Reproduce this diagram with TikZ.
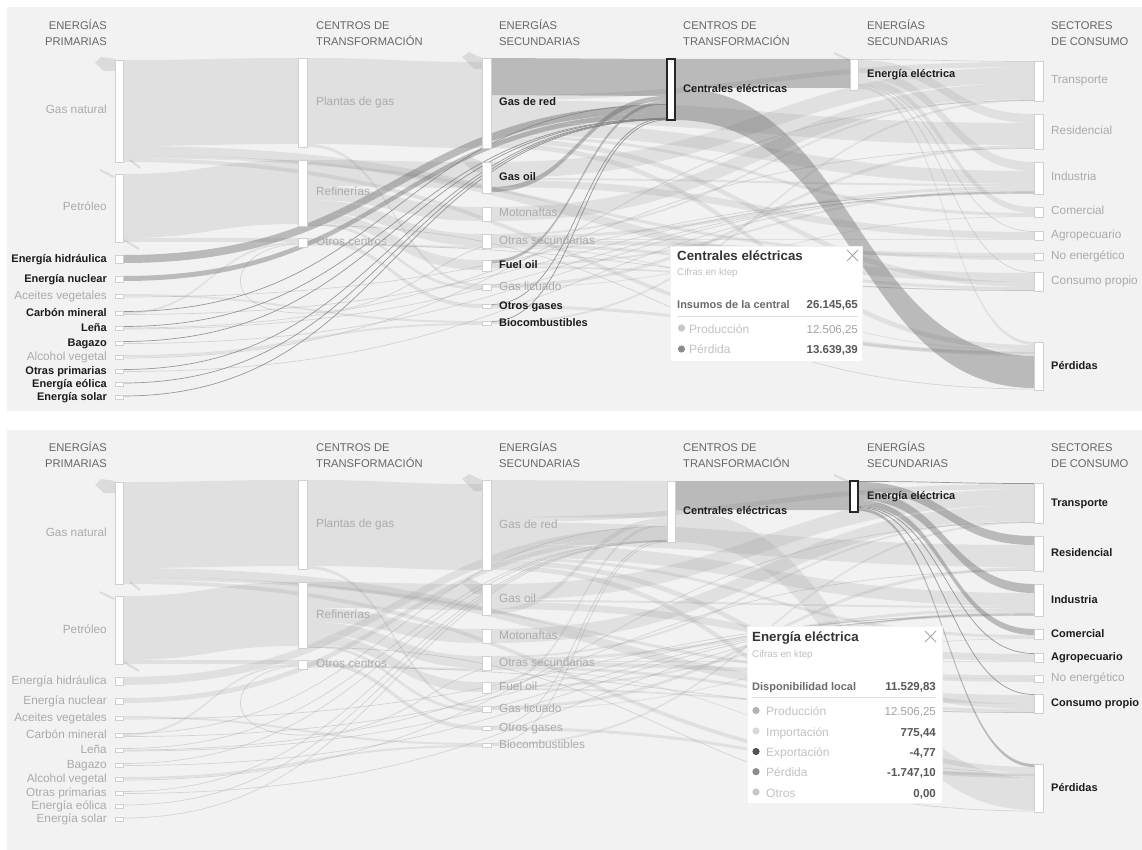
\documentclass[tikz,border=0pt]{standalone}
\usepackage{fontspec}
\setmainfont{Liberation Sans}
\usetikzlibrary{calc,positioning}

\definecolor{panelbg}{HTML}{F2F2F2}
\definecolor{lblgray}{HTML}{ABABAB}
\definecolor{lbldark}{HTML}{1C1C1C}
\definecolor{hdrgray}{HTML}{676767}
\definecolor{bargray}{HTML}{D0D0D0}

% a bar of the flow chart: name, left x, top y, width, height (y grows downwards)
\newcommand\mkbar[5]{\node[barbox,minimum width=#4pt,minimum height=#5pt] (#1) at (#2,#3) {};}

% ribbon between two bars: style, source, top/bottom offsets, target, top/bottom offsets
\newcommand\rib[7]{%
  \fill[#1] let \p1=($(#2.north east)+(0,#3)$), \p2=($(#2.north east)+(0,#4)$),
      \p3=($(#5.north west)+(0,#6)$), \p4=($(#5.north west)+(0,#7)$),
      \p5=($(\p1)!.5!(\p3)$) in
    (\p1) .. controls (\x5,\y1) and (\x5,\y3) .. (\p3) -- (\p4)
    .. controls (\x5,\y4) and (\x5,\y2) .. (\p2) -- cycle;}

% hairline link between two bars: style, source, offset, target, offset
\newcommand\lnk[5]{%
  \draw[#1] let \p1=($(#2.north east)+(0,#3)$), \p3=($(#4.north west)+(0,#5)$),
      \p5=($(\p1)!.5!(\p3)$) in
    (\p1) .. controls (\x5,\y1) and (\x5,\y3) .. (\p3);}

\newcommand\mkbars[1]{%
  % primary energy
  \mkbar{#1gn}{115}{60}{8}{102}
  \mkbar{#1pe}{115}{174}{8}{68}
  \mkbar{#1hi}{115}{255}{8}{8}
  \mkbar{#1nu}{115}{276}{8}{6}
  \mkbar{#1ac}{115}{294}{8}{4}
  \mkbar{#1ca}{115}{311}{8}{4}
  \mkbar{#1le}{115}{326}{8}{4}
  \mkbar{#1ba}{115}{341}{8}{4}
  \mkbar{#1al}{115}{355}{8}{4}
  \mkbar{#1op}{115}{369}{8}{4}
  \mkbar{#1eo}{115}{382}{8}{4}
  \mkbar{#1so}{115}{395}{8}{4}
  % transformation centres
  \mkbar{#1pg}{298}{58}{9}{89}
  \mkbar{#1re}{298}{160}{9}{66}
  \mkbar{#1oc}{298}{238}{9}{9}
  % secondary energy
  \mkbar{#1gr}{482}{58}{9}{90}
  \mkbar{#1go}{482}{162}{9}{31}
  \mkbar{#1mo}{482}{207}{9}{14}
  \mkbar{#1os}{482}{234}{9}{14}
  \mkbar{#1fo}{482}{260}{9}{11}
  \mkbar{#1gl}{482}{284}{9}{6}
  \mkbar{#1og}{482}{304}{9}{4}
  \mkbar{#1bi}{482}{321}{9}{4}
  % power plants and electricity
  \mkbar{#1ce}{667}{59}{8}{61}
  \mkbar{#1ee}{850}{59}{8}{31}
  % final consumption
  \mkbar{#1tr}{1034}{61}{9}{40}
  \mkbar{#1rs}{1034}{114}{9}{35}
  \mkbar{#1in}{1034}{162}{9}{32}
  \mkbar{#1co}{1034}{207}{9}{10}
  \mkbar{#1ag}{1034}{231}{9}{9}
  \mkbar{#1ne}{1034}{253}{9}{7}
  \mkbar{#1cp}{1034}{272}{9}{19}
  \mkbar{#1pd}{1034}{342}{9}{48}}

% import / export stubs
\newcommand\stubs{%
  \fill[stub] (95,63) -- (101,57) -- (115,59) -- (115,71) -- (104,71) -- cycle;
  \fill[stub] (462,57) -- (469,52) -- (482,58) -- (482,69) -- (474,69) -- cycle;
  \fill[stub] (462,161) -- (469,156) -- (482,162) -- (482,172) -- (474,172) -- cycle;
  \draw[stubline] (100,170) -- (114,177);
  \draw[stubline] (124,240) -- (139,249);
  \draw[stubline] (130,160) -- (140,168);
  \draw[stubline] (834,53) -- (849,60);}

\newcommand\flows[1]{%
  % primary -> transformation centres
  \rib{flt}{#1gn}{0}{86}{#1pg}{0}{86}
  \rib{flt}{#1pe}{0}{64}{#1re}{0}{64}
  \rib{flt}{#1pe}{64}{68}{#1oc}{0}{4}
  \rib{flt}{#1ca}{1}{3}{#1oc}{4}{6}
  \rib{flt}{#1ac}{0}{2}{#1bi}{0}{2}
  \rib{flt}{#1al}{0}{2}{#1bi}{2}{4}
  % primary -> final consumption
  \rib{flt}{#1gn}{86}{95}{#1cp}{1}{10}
  \rib{flt}{#1gn}{95}{98}{#1ne}{4}{7}
  \rib{flt}{#1gn}{98}{102}{#1pd}{10}{14}
  \lnk{tlt}{#1le}{2}{#1rs}{34.5}
  \lnk{tlt}{#1le}{3}{#1in}{31.5}
  \lnk{tlt}{#1ba}{2.5}{#1in}{30.5}
  \lnk{tlt}{#1op}{2.5}{#1in}{29.5}
  \lnk{tlt}{#1ac}{3}{#1in}{31}
  \lnk{tlt}{#1al}{3}{#1tr}{39.5}
  \lnk{tlt}{#1ca}{3.5}{#1in}{30}
  % transformation centres -> secondary energy
  \rib{flt}{#1pg}{0}{86}{#1gr}{4}{90}
  \rib{flt}{#1pg}{86}{89}{#1gl}{0}{3}
  \rib{flt}{#1re}{0}{26}{#1go}{0}{26}
  \rib{flt}{#1re}{26}{40}{#1mo}{0}{14}
  \rib{flt}{#1re}{40}{52}{#1os}{0}{12}
  \rib{flt}{#1re}{52}{62}{#1fo}{0}{10}
  \rib{flt}{#1re}{62}{65}{#1gl}{3}{6}
  \rib{flt}{#1oc}{0}{4}{#1og}{0}{4}
  \rib{flt}{#1oc}{4}{6}{#1os}{12}{14}
  \lnk{tlt}{#1oc}{7}{#1cp}{18.5}
  \lnk{tlt}{#1re}{65.5}{#1pd}{47}
  \draw[tlt] ($(#1oc.north west)+(0,6)$) .. controls (228,246) and (214,312)
    .. (300,313) .. controls (392,314) and (432,262) .. ($(#1os.north west)+(0,13)$);
  % secondary energy -> final consumption
  \rib{flt}{#1gr}{37}{42}{#1tr}{1}{6}
  \rib{flt}{#1gr}{42}{64}{#1rs}{9}{31}
  \rib{flt}{#1gr}{64}{77}{#1in}{9}{22}
  \rib{flt}{#1gr}{77}{80}{#1co}{6}{9}
  \rib{flt}{#1gr}{80}{85}{#1cp}{10}{15}
  \rib{flt}{#1gr}{85}{90}{#1pd}{3}{8}
  \rib{flt}{#1go}{0}{16}{#1tr}{6}{22}
  \rib{flt}{#1go}{16}{18}{#1in}{22}{24}
  \rib{flt}{#1go}{18}{25}{#1ag}{1}{8}
  \rib{flt}{#1mo}{0}{14}{#1tr}{22}{36}
  \rib{flt}{#1os}{0}{2}{#1tr}{36}{38}
  \rib{flt}{#1os}{2}{5}{#1in}{24}{27}
  \rib{flt}{#1os}{5}{6}{#1ag}{8}{9}
  \rib{flt}{#1os}{6}{10}{#1ne}{0}{4}
  \rib{flt}{#1os}{10}{13}{#1cp}{15}{18}
  \rib{flt}{#1os}{13}{14}{#1pd}{8}{9}
  \rib{flt}{#1fo}{4}{6}{#1in}{27}{29}
  \rib{flt}{#1fo}{6}{8}{#1cp}{18}{19}
  \rib{flt}{#1gl}{0}{3}{#1rs}{31}{34}
  \rib{flt}{#1gl}{3}{4}{#1co}{9}{10}
  \rib{flt}{#1og}{1}{4}{#1pd}{9}{12}
  \rib{flt}{#1bi}{1}{3}{#1tr}{38}{40}
  % electricity distribution
  \lnk{tee}{#1ee}{0.5}{#1tr}{0.5}
  \rib{fee}{#1ee}{1}{10}{#1rs}{0}{9}
  \rib{fee}{#1ee}{10}{19}{#1in}{0}{9}
  \rib{fee}{#1ee}{19}{25}{#1co}{0}{6}
  \lnk{tee}{#1ee}{25.5}{#1ag}{0.5}
  \lnk{tee}{#1ee}{26.5}{#1cp}{0.5}
  \rib{fee}{#1ee}{27}{30}{#1pd}{0}{3}
  % inputs of the power plants
  \rib{fce}{#1gr}{0}{37}{#1ce}{0}{37}
  \rib{fce}{#1go}{25}{30}{#1ce}{37}{42}
  \rib{fce}{#1fo}{0}{3}{#1ce}{42}{45}
  \rib{fce}{#1hi}{0}{8}{#1ce}{46}{54}
  \rib{fce}{#1nu}{0}{5}{#1ce}{54}{59}
  \lnk{tce}{#1ca}{0.5}{#1ce}{45.5}
  \lnk{tce}{#1og}{0.5}{#1ce}{59}
  \lnk{tce}{#1le}{0.5}{#1ce}{59.3}
  \lnk{tce}{#1ba}{0.5}{#1ce}{59.7}
  \lnk{tce}{#1op}{0.5}{#1ce}{60.1}
  \lnk{tce}{#1eo}{1}{#1ce}{60.4}
  \lnk{tce}{#1so}{1}{#1ce}{60.7}
  \lnk{tce}{#1bi}{0.5}{#1ce}{60.9}
  % outputs of the power plants
  \rib{fboth}{#1ce}{0}{29}{#1ee}{0}{29}
  \rib{fce}{#1ce}{29}{61}{#1pd}{14}{46}}

\newcommand\drawbars[1]{%
  \foreach \bb in {gn,pe,hi,nu,ac,ca,le,ba,al,op,eo,so,pg,re,oc,gr,go,mo,os,fo,gl,og,bi,tr,rs,in,co,ag,ne,cp,pd}
    {\draw[barline] (#1\bb.north west) rectangle (#1\bb.south east);}
  \draw[cebar] (#1ce.north west) rectangle (#1ce.south east);
  \draw[eebar] (#1ee.north west) rectangle (#1ee.south east);}

\newcommand\headers[1]{%
  \node[hdr,anchor=base east] (#1h1a) at (107,29.5) {ENERGÍAS};
  \node[hdr,anchor=base east] (#1h1b) at (107,45.5) {PRIMARIAS};
  \node[hdr,anchor=base west] (#1h2a) at (316,29.5) {CENTROS DE};
  \node[hdr,anchor=base west] (#1h2b) at (316,45.5) {TRANSFORMACIÓN};
  \node[hdr,anchor=base west] (#1h3a) at (499,29.5) {ENERGÍAS};
  \node[hdr,anchor=base west] (#1h3b) at (499,45.5) {SECUNDARIAS};
  \node[hdr,anchor=base west] (#1h4a) at (683,29.5) {CENTROS DE};
  \node[hdr,anchor=base west] (#1h4b) at (683,45.5) {TRANSFORMACIÓN};
  \node[hdr,anchor=base west] (#1h5a) at (867,29.5) {ENERGÍAS};
  \node[hdr,anchor=base west] (#1h5b) at (867,45.5) {SECUNDARIAS};
  \node[hdr,anchor=base west] (#1h6a) at (1051,29.5) {SECTORES};
  \node[hdr,anchor=base west] (#1h6b) at (1051,45.5) {DE CONSUMO};}

\begin{document}
\begin{tikzpicture}[x=1pt,y=-1pt,
  barbox/.style={rectangle,inner sep=0pt,outer sep=0pt,anchor=north west},
  barline/.style={draw=bargray,fill=white,line width=0.6pt},
  hibar/.style={draw=black!85,fill=white,line width=1.1pt},
  flt/.style={fill=black!45,fill opacity=0.17},
  fhl/.style={fill=black!62,fill opacity=0.38},
  tlt/.style={draw=black!45,draw opacity=0.3,line width=0.7pt},
  thl/.style={draw=black!52,draw opacity=0.75,line width=0.7pt},
  fboth/.style={fhl},
  stub/.style={fill=black!14},
  stubline/.style={draw=black!14,line width=2pt},
  hdr/.style={inner sep=0pt,text=hdrgray,font=\fontsize{11.2}{13}\selectfont},
  lg/.style={inner sep=0pt,text=lblgray,text height=8.5pt,text depth=2.5pt,font=\fontsize{11.8}{14}\selectfont},
  lb/.style={inner sep=0pt,text=lbldark,text height=8.5pt,text depth=2.5pt,font=\fontsize{11}{13}\selectfont\bfseries},
  tipbox/.style={rectangle,fill=white,draw=black!5,line width=0.4pt,inner sep=0pt,anchor=north west},
  tiptitle/.style={inner sep=0pt,text=black!80,font=\fontsize{13.3}{15}\selectfont\bfseries},
  tipnote/.style={inner sep=0pt,text=black!25,font=\fontsize{9.8}{11}\selectfont},
  tiphead/.style={inner sep=0pt,text=black!58,font=\fontsize{11}{13}\selectfont\bfseries},
  tipval/.style={inner sep=0pt,text=black!66,font=\fontsize{11.5}{13}\selectfont\bfseries},
  tiprow/.style={inner sep=0pt,text=black!24,font=\fontsize{12}{14}\selectfont},
  tipnum/.style={inner sep=0pt,text=black!36,font=\fontsize{11.5}{13}\selectfont},
  tiprule/.style={draw=black!12,line width=0.8pt},
  closex/.style={draw=black!35,line width=0.8pt}]

\useasboundingbox (0,0) rectangle (1142,850);
\fill[white] (0,0) rectangle (1142,850);

% ---------- upper chart: power plants selected ----------
\begin{scope}[fce/.style={fhl},fee/.style={flt},tce/.style={thl},tee/.style={tlt},
  cebar/.style={hibar},eebar/.style={barline}]
  \fill[panelbg] (7,7) rectangle (1142,411);
  \mkbars{t}
  \stubs
  \flows{t}
  \drawbars{t}
  \headers{t}
  \node[lg,left=8pt of tgn] (tgnL) {Gas natural};
  \node[lg,left=8pt of tpe] (tpeL) {Petróleo};
  \node[lb,left=8pt of thi] (thiL) {Energía hidráulica};
  \node[lb,left=8pt of tnu] (tnuL) {Energía nuclear};
  \node[lg,left=8pt of tac] (tacL) {Aceites vegetales};
  \node[lb,left=8pt of tca] (tcaL) {Carbón mineral};
  \node[lb,left=8pt of tle] (tleL) {Leña};
  \node[lb,left=8pt of tba] (tbaL) {Bagazo};
  \node[lg,left=8pt of tal] (talL) {Alcohol vegetal};
  \node[lb,left=8pt of top] (topL) {Otras primarias};
  \node[lb,left=8pt of teo] (teoL) {Energía eólica};
  \node[lb,left=8pt of tso] (tsoL) {Energía solar};
  \node[lg,right=9pt of tpg] (tpgL) {Plantas de gas};
  \node[lg,right=9pt of tre] (treL) {Refinerías};
  \node[lg,right=9pt of toc] (tocL) {Otros centros};
  \node[lb,right=8pt of tgr] (tgrL) {Gas de red};
  \node[lb,right=8pt of tgo] (tgoL) {Gas oil};
  \node[lg,right=8pt of tmo] (tmoL) {Motonaftas};
  \node[lg,right=8pt of tos] (tosL) {Otras secundarias};
  \node[lb,right=8pt of tfo] (tfoL) {Fuel oil};
  \node[lg,right=8pt of tgl] (tglL) {Gas licuado};
  \node[lb,right=8pt of tog] (togL) {Otros gases};
  \node[lb,right=8pt of tbi] (tbiL) {Biocombustibles};
  \node[lb,right=8pt of tce] (tceL) {Centrales eléctricas};
  \node[lb,right=9pt of tee] (teeL) {Energía eléctrica};
  \node[lg,right=8pt of ttr] (ttrL) {Transporte};
  \node[lg,right=8pt of trs] (trsL) {Residencial};
  \node[lg,right=8pt of tin] (tinL) {Industria};
  \node[lg,right=8pt of tco] (tcoL) {Comercial};
  \node[lg,right=8pt of tag] (tagL) {Agropecuario};
  \node[lg,right=8pt of tne] (tneL) {No energético};
  \node[lg,right=8pt of tcp] (tcpL) {Consumo propio};
  \node[lb,right=8pt of tpd] (tpdL) {Pérdidas};
\end{scope}

% ---------- lower chart: electricity selected ----------
\begin{scope}[shift={(0,422)},fce/.style={flt},fee/.style={fhl},tce/.style={tlt},tee/.style={thl},
  cebar/.style={barline},eebar/.style={hibar}]
  \fill[panelbg] (7,8) rectangle (1142,428);
  \mkbars{b}
  \stubs
  \flows{b}
  \drawbars{b}
  \headers{b}
  \node[lg,left=8pt of bgn] (bgnL) {Gas natural};
  \node[lg,left=8pt of bpe] (bpeL) {Petróleo};
  \node[lg,left=8pt of bhi] (bhiL) {Energía hidráulica};
  \node[lg,left=8pt of bnu] (bnuL) {Energía nuclear};
  \node[lg,left=8pt of bac] (bacL) {Aceites vegetales};
  \node[lg,left=8pt of bca] (bcaL) {Carbón mineral};
  \node[lg,left=8pt of ble] (bleL) {Leña};
  \node[lg,left=8pt of bba] (bbaL) {Bagazo};
  \node[lg,left=8pt of bal] (balL) {Alcohol vegetal};
  \node[lg,left=8pt of bop] (bopL) {Otras primarias};
  \node[lg,left=8pt of beo] (beoL) {Energía eólica};
  \node[lg,left=8pt of bso] (bsoL) {Energía solar};
  \node[lg,right=9pt of bpg] (bpgL) {Plantas de gas};
  \node[lg,right=9pt of bre] (breL) {Refinerías};
  \node[lg,right=9pt of boc] (bocL) {Otros centros};
  \node[lg,right=8pt of bgr] (bgrL) {Gas de red};
  \node[lg,right=8pt of bgo] (bgoL) {Gas oil};
  \node[lg,right=8pt of bmo] (bmoL) {Motonaftas};
  \node[lg,right=8pt of bos] (bosL) {Otras secundarias};
  \node[lg,right=8pt of bfo] (bfoL) {Fuel oil};
  \node[lg,right=8pt of bgl] (bglL) {Gas licuado};
  \node[lg,right=8pt of bog] (bogL) {Otros gases};
  \node[lg,right=8pt of bbi] (bbiL) {Biocombustibles};
  \node[lb,right=8pt of bce] (bceL) {Centrales eléctricas};
  \node[lb,right=9pt of bee] (beeL) {Energía eléctrica};
  \node[lb,right=8pt of btr] (btrL) {Transporte};
  \node[lb,right=8pt of brs] (brsL) {Residencial};
  \node[lb,right=8pt of bin] (binL) {Industria};
  \node[lb,right=8pt of bco] (bcoL) {Comercial};
  \node[lb,right=8pt of bag] (bagL) {Agropecuario};
  \node[lg,right=8pt of bne] (bneL) {No energético};
  \node[lb,right=8pt of bcp] (bcpL) {Consumo propio};
  \node[lb,right=8pt of bpd] (bpdL) {Pérdidas};
\end{scope}

% ---------- info box of the power plants ----------
\node[tipbox,minimum width=192pt,minimum height=115pt] (tipA) at (670,246) {};
\node[tiptitle,anchor=base west] (tipAt) at (677,260) {Centrales eléctricas};
\draw[closex] (847,250) -- (858,261) (847,261) -- (858,250);
\node[tipnote,anchor=base west] (tipAn) at (677,276) {Cifras en ktep};
\node[tiphead,anchor=base west] (tipAh) at (677,308) {Insumos de la central};
\node[tipval,anchor=base east] (tipAhv) at (858,308) {26.145,65};
\draw[tiprule] (677,316) -- (858,316);
\fill[black!22] (681.5,328) circle (3.6pt);
\node[tiprow,anchor=base west] (tipA1) at (689,333) {Producción};
\node[tipnum,anchor=base east] (tipA1v) at (858,333) {12.506,25};
\fill[black!45] (681.5,349) circle (3.6pt);
\node[tiprow,anchor=base west] (tipA2) at (689,353.5) {Pérdida};
\node[tipval,anchor=base east] (tipA2v) at (858,353.5) {13.639,39};

% ---------- info box of electricity ----------
\node[tipbox,minimum width=195pt,minimum height=177pt] (tipB) at (747,626) {};
\node[tiptitle,anchor=base west] (tipBt) at (752,641.5) {Energía eléctrica};
\draw[closex] (925,631) -- (936,642) (925,642) -- (936,631);
\node[tipnote,anchor=base west] (tipBn) at (752,657) {Cifras en ktep};
\node[tiphead,anchor=base west] (tipBh) at (752,690) {Disponibilidad local};
\node[tipval,anchor=base east] (tipBhv) at (936,690) {11.529,83};
\draw[tiprule] (752,697) -- (936,697);
\fill[black!30] (756,710.5) circle (3.6pt);
\node[tiprow,anchor=base west] (tipB1) at (766,715) {Producción};
\node[tipnum,anchor=base east] (tipB1v) at (936,715) {12.506,25};
\fill[black!15] (756,731) circle (3.6pt);
\node[tiprow,anchor=base west] (tipB2) at (766,736) {Importación};
\node[tipval,anchor=base east] (tipB2v) at (936,736) {775,44};
\fill[black!68] (756,751.5) circle (3.6pt);
\node[tiprow,anchor=base west] (tipB3) at (766,756.5) {Exportación};
\node[tipval,anchor=base east] (tipB3v) at (936,756.5) {-4,77};
\fill[black!45] (756,771.7) circle (3.6pt);
\node[tiprow,anchor=base west] (tipB4) at (766,776.5) {Pérdida};
\node[tipval,anchor=base east] (tipB4v) at (936,776.5) {-1.747,10};
\fill[black!22] (756,792) circle (3.6pt);
\node[tiprow,anchor=base west] (tipB5) at (766,797) {Otros};
\node[tipval,anchor=base east] (tipB5v) at (936,797) {0,00};
\end{tikzpicture}
\end{document}
